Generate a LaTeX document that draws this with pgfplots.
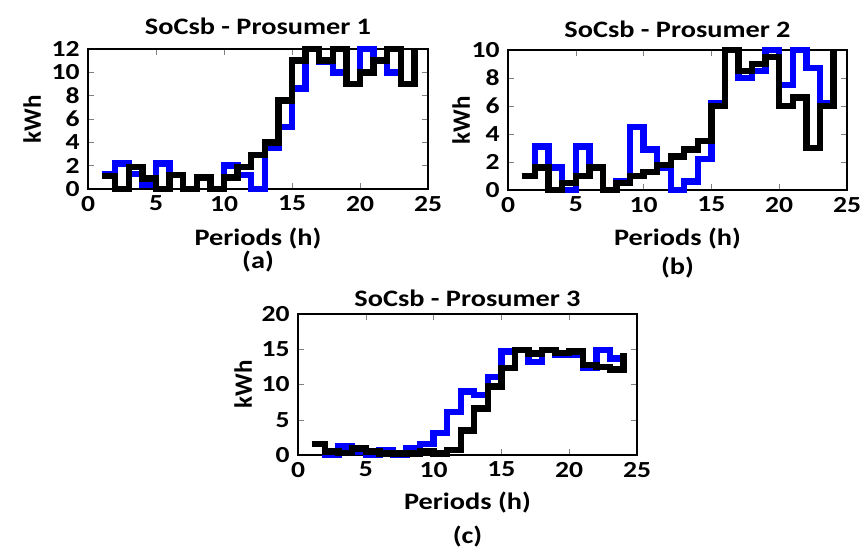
\documentclass[border=0pt]{standalone}
\usepackage{pgfplots}
\pgfplotsset{compat=1.18}
\usepackage{pgfplotstable}
\usepackage{fontspec}
\setmainfont{Carlito}
\newcommand\titf{\bfseries\fontsize{11.8}{11.8}\selectfont}
\newcommand\lblf{\bfseries\fontsize{11.8}{11.8}\selectfont}

% hourly state of charge (t, blue, black)
\pgfplotstableread{
t  blue  black
1  1.3   1.1
2  2.2   0
3  1.3   1.9
4  0.4   0.9
5  2.2   0
6  1.2   1.2
7  0     0
8  1.0   1.0
9  0     0
10 2.0   1.0
11 1.2   1.9
12 0     2.9
13 3.5   4.0
14 5.3   7.6
15 8.6   11
16 12    12
17 10.9  11
18 10    12
19 9     9
20 12    10
21 11    11
22 10    12
23 9     9
24 12    12
}\prosA

\pgfplotstableread{
t  blue  black
1  1.0   1.0
2  3.1   1.6
3  1.6   0
4  0     0.5
5  3.1   1.0
6  1.6   1.6
7  0     0
8  0.6   0.5
9  4.5   1.0
10 2.9   1.3
11 1.6   1.8
12 0     2.4
13 0.6   2.9
14 2.2   3.5
15 6.2   6.0
16 10    10
17 8.0   8.5
18 8.5   9.0
19 10    9.5
20 7.5   6.0
21 10    6.6
22 8.7   3.0
23 6.2   6.0
24 10    10
}\prosB

\pgfplotstableread{
t  blue  black
1  1.6   1.6
2  0     0.5
3  1.2   0.3
4  0.5   0.9
5  0     0.5
6  0.7   0.2
7  0     0.2
8  0.9   0.2
9  1.6   0.5
10 3.1   0.2
11 6.1   0.7
12 9.0   3.5
13 8.5   6.6
14 11.1  9.7
15 14.7  12.3
16 14.9  14.9
17 13.2  14.4
18 14.9  14.9
19 14.2  14.5
20 14.2  14.7
21 12.3  12.8
22 14.9  12.5
23 13.7  12.1
24 14.4  14.4
}\prosC

\pgfplotsset{
  soc/.style={
    scale only axis,
    xmin=0, xmax=25,
    xtick={0,5,...,25},
    ymin=0,
    tick align=inside,
    clip=false,
    axis line style={line width=0.6pt},
    major tick length=3pt,
    /pgf/number format/assume math mode=true,
    tick label style={font=\bfseries\fontsize{11.5}{11.5}\selectfont, xscale=1.2},
    xlabel style={font=\lblf, xscale=1.2},
    ylabel style={font=\bfseries\fontsize{12.5}{12.5}\selectfont},
    xlabel={Periods (h)},
    ylabel={kWh},
  },
  bl/.style={const plot, no marks, blue, line width=3.2pt},
  bk/.style={const plot, no marks, black, line width=3.2pt},
}

\begin{document}
\begin{tikzpicture}
\path[use as bounding box] (0,0) rectangle (433pt,274.5pt);

\begin{axis}[soc,
  at={(44pt,180pt)}, anchor=south west,
  width=170pt, height=70pt,
  ymax=12, ytick={0,2,...,12},
  xlabel style={at={(0.5,0)}, anchor=center, yshift=-25pt},
  ylabel style={at={(0,0.5)}, anchor=center, yshift=28pt},
]
\addplot[bl] table[x=t, y=blue] {\prosA};
\addplot[bk] table[x=t, y=black] {\prosA};
\node[font=\titf, xscale=1.2] at (rel axis cs:0.5,1) [yshift=11.5pt] {SoCsb - Prosumer 1};
\node[font=\lblf, xscale=1.2] at (rel axis cs:0.5,0) [yshift=-36.5pt] {(a)};
\end{axis}

\begin{axis}[soc,
  at={(254pt,179.5pt)}, anchor=south west,
  width=169.5pt, height=70pt,
  ymax=10, ytick={0,2,...,10},
  xlabel style={at={(0.5,0)}, anchor=center, yshift=-24.5pt},
  ylabel style={at={(0,0.5)}, anchor=center, yshift=23.5pt},
]
\addplot[bl] table[x=t, y=blue] {\prosB};
\addplot[bk] table[x=t, y=black] {\prosB};
\node[font=\titf, xscale=1.2] at (rel axis cs:0.5,1) [yshift=10.5pt] {SoCsb - Prosumer 2};
\node[font=\lblf, xscale=1.2] at (rel axis cs:0.5,0) [yshift=-39pt] {(b)};
\end{axis}

\begin{axis}[soc,
  at={(149pt,47pt)}, anchor=south west,
  width=169.5pt, height=70.5pt,
  ymax=20, ytick={0,5,...,20},
  xlabel style={at={(0.5,0)}, anchor=center, yshift=-24pt},
  ylabel style={at={(0,0.5)}, anchor=center, yshift=27.5pt},
]
\addplot[bl] table[x=t, y=blue] {\prosC};
\addplot[bk] table[x=t, y=black] {\prosC};
\node[font=\titf, xscale=1.2] at (rel axis cs:0.5,1) [yshift=8pt] {SoCsb - Prosumer 3};
\node[font=\lblf, xscale=1.2] at (rel axis cs:0.5,0) [yshift=-41pt] {(c)};
\end{axis}
\end{tikzpicture}
\end{document}
